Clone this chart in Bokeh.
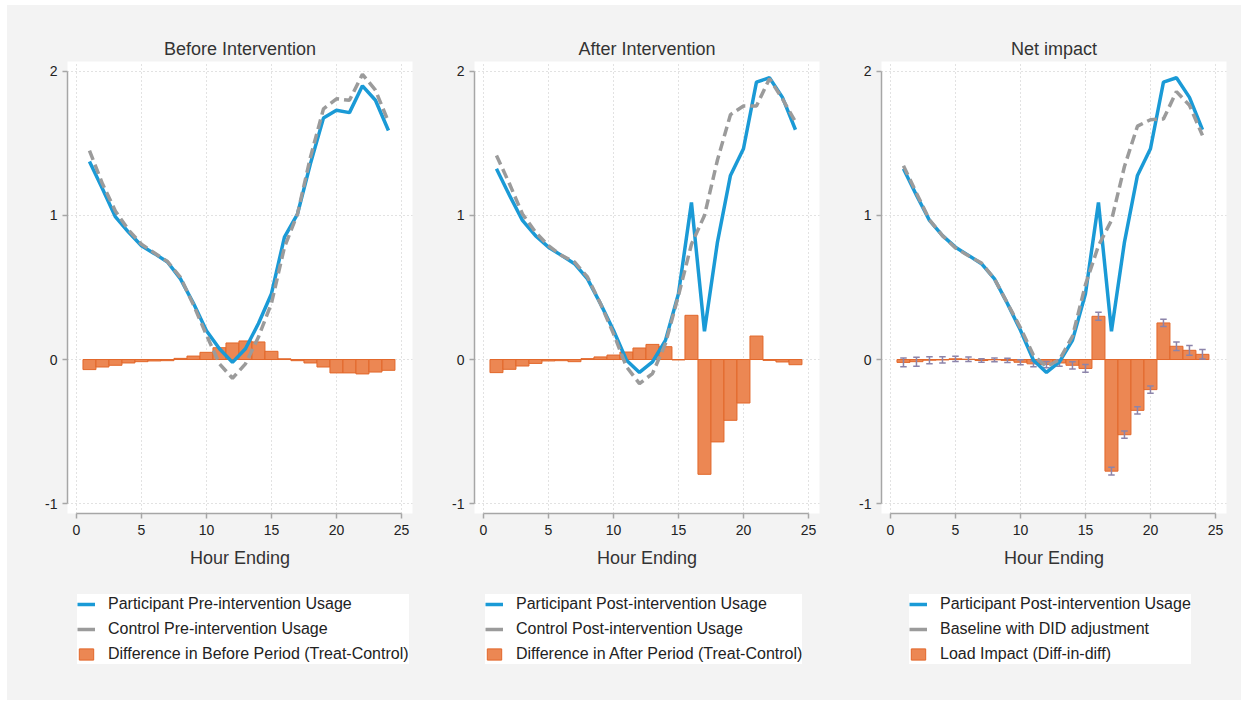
from bokeh.plotting import figure
from bokeh.models import Range1d, Legend, LegendItem, FixedTicker
from bokeh.layouts import row, column
from bokeh.embed import file_html
from bokeh.resources import INLINE

hours = list(range(1, 25))

participant_pre = [1.375, 1.186, 0.99, 0.885, 0.79, 0.735, 0.677, 0.56, 0.39, 0.20, 0.075, -0.02,
                   0.075, 0.25, 0.457, 0.85, 1.01, 1.36, 1.676, 1.73, 1.714, 1.90, 1.80, 1.59]
control_pre = [1.45, 1.22, 1.03, 0.90, 0.80, 0.74, 0.68, 0.57, 0.38, 0.17, -0.03, -0.13,
               -0.03, 0.156, 0.39, 0.78, 1.01, 1.405, 1.74, 1.81, 1.80, 1.98, 1.87, 1.65]
diff_before = [-0.07, -0.052, -0.04, -0.024, -0.015, -0.01, -0.008, 0.008, 0.024, 0.05, 0.082, 0.115,
               0.129, 0.122, 0.057, 0.005, -0.008, -0.024, -0.052, -0.093, -0.093, -0.10, -0.087, -0.075]

participant_post = [1.324, 1.14, 0.966, 0.86, 0.78, 0.723, 0.665, 0.56, 0.388, 0.203, -0.005, -0.09,
                    -0.017, 0.133, 0.457, 1.09, 0.196, 0.815, 1.278, 1.463, 1.926, 1.956, 1.82, 1.595]
control_post = [1.417, 1.22, 1.01, 0.885, 0.79, 0.723, 0.677, 0.573, 0.388, 0.18, -0.05, -0.167,
                -0.098, 0.11, 0.445, 0.80, 1.0, 1.385, 1.70, 1.76, 1.76, 1.95, 1.81, 1.65]
diff_after = [-0.091, -0.068, -0.045, -0.027, -0.01, -0.008, -0.015, 0.006, 0.018, 0.031, 0.052, 0.08,
              0.105, 0.089, -0.003, 0.307, -0.797, -0.572, -0.422, -0.302, 0.163, -0.006, -0.017, -0.036]

baseline_did = [1.345, 1.155, 0.97, 0.86, 0.775, 0.72, 0.67, 0.56, 0.39, 0.22, 0.03, -0.05,
                0.0, 0.16, 0.52, 0.79, 0.966, 1.34, 1.62, 1.665, 1.67, 1.86, 1.765, 1.556]
load_impact = [-0.02, -0.015, -0.005, -0.003, 0.005, 0.002, -0.007, -0.002, -0.006, -0.019, -0.03, -0.035,
               -0.024, -0.04, -0.062, 0.30, -0.775, -0.522, -0.353, -0.209, 0.254, 0.092, 0.064, 0.036]
impact_ci = [0.031, 0.031, 0.025, 0.022, 0.018, 0.015, 0.012, 0.013, 0.015, 0.018, 0.02, 0.022,
             0.022, 0.025, 0.027, 0.028, 0.027, 0.025, 0.025, 0.025, 0.025, 0.029, 0.034, 0.033]

x_ticks = [0, 5, 10, 15, 20, 25]
y_ticks = [-1, 0, 1, 2]
y_tick_labels = {-1: "-1", 0: "0", 1: "1", 2: "2"}

BG = "#f3f3f3"
BLUE = "#1a9ad6"
GRAY = "#9b9b9b"
ORANGE = "#ec8753"
ORANGE_LINE = "#e2672a"
ERR = "#8c84aa"
FONT = "Liberation Sans"


def make_panel(title, blue_y, gray_y, bars, right_border, ci=None):
    p = figure(frame_width=345, frame_height=452,
               x_range=Range1d(-0.69, 25.85), y_range=Range1d(-1.069, 2.069),
               output_backend="svg", toolbar_location=None,
               min_border_left=60, min_border_right=right_border,
               min_border_top=56, min_border_bottom=67,
               background_fill_color="white", border_fill_color=BG,
               outline_line_color=None, title=title)
    p.title.align = "center"
    p.title.text_font = FONT
    p.title.text_font_size = "18px"
    p.title.text_font_style = "normal"
    p.title.text_color = "#333333"
    p.title.standoff = 6

    for ax in (p.xaxis[0], p.yaxis[0]):
        ax.axis_line_color = "#a6a6a6"
        ax.axis_line_width = 1.5
        ax.major_tick_line_color = "#a6a6a6"
        ax.major_tick_line_width = 1.5
        ax.major_tick_out = 5
        ax.major_tick_in = 0
        ax.minor_tick_line_color = None
        ax.major_label_text_font = FONT
        ax.major_label_text_font_size = "14px"
        ax.major_label_text_color = "#222222"
    p.xaxis[0].ticker = FixedTicker(ticks=x_ticks)
    p.yaxis[0].ticker = FixedTicker(ticks=y_ticks)
    p.yaxis[0].major_label_overrides = y_tick_labels
    p.xaxis[0].bounds = (x_ticks[0], x_ticks[-1])
    p.yaxis[0].bounds = (y_ticks[0], y_ticks[-1])
    p.xaxis[0].axis_label = "Hour Ending"
    p.xaxis[0].axis_label_text_font = FONT
    p.xaxis[0].axis_label_text_font_size = "18px"
    p.xaxis[0].axis_label_text_font_style = "normal"
    p.xaxis[0].axis_label_text_color = "#333333"
    p.xaxis[0].axis_label_standoff = 10
    p.xaxis[0].major_label_standoff = 6

    p.xgrid[0].ticker = FixedTicker(ticks=x_ticks)
    p.ygrid[0].ticker = FixedTicker(ticks=y_ticks)
    for g in (p.xgrid[0], p.ygrid[0]):
        g.grid_line_color = "#c4c4c4"
        g.grid_line_dash = "1 3"
        g.grid_line_width = 1

    p.vbar(x=hours, top=bars, bottom=0, width=1.0,
           fill_color=ORANGE, line_color=ORANGE_LINE, line_width=1)
    if ci is not None:
        lo = [b - c for b, c in zip(bars, ci)]
        hi = [b + c for b, c in zip(bars, ci)]
        xl = [h - 0.25 for h in hours]
        xr = [h + 0.25 for h in hours]
        p.segment(x0=hours, y0=lo, x1=hours, y1=hi, line_color=ERR, line_width=1.5)
        p.segment(x0=xl, y0=lo, x1=xr, y1=lo, line_color=ERR, line_width=1.5)
        p.segment(x0=xl, y0=hi, x1=xr, y1=hi, line_color=ERR, line_width=1.5)
    p.line(hours, blue_y, line_color=BLUE, line_width=3.5)
    p.line(hours, gray_y, line_color=GRAY, line_width=3.5, line_dash="10 5")
    return p


def make_legend(labels, width, legend_x):
    # a legend-only strip below each panel; its swatch renderers sit outside the visible range
    q = figure(width=width, height=120, x_range=Range1d(0, 1), y_range=Range1d(0, 1),
               output_backend="svg", toolbar_location=None,
               x_axis_location=None, y_axis_location=None, min_border=0,
               background_fill_color=BG, border_fill_color=BG, outline_line_color=None)
    q.xgrid.visible = False
    q.ygrid.visible = False
    r_blue = q.line([5, 6], [5, 5], line_color=BLUE, line_width=3.5)
    r_gray = q.line([5, 6], [5, 5], line_color=GRAY, line_width=3.5)
    r_bar = q.vbar(x=[5], top=[6], bottom=[5], width=1.0,
                   fill_color=ORANGE, line_color=ORANGE_LINE, line_width=1)
    legend = Legend(items=[LegendItem(label=labels[0], renderers=[r_blue]),
                           LegendItem(label=labels[1], renderers=[r_gray]),
                           LegendItem(label=labels[2], renderers=[r_bar])],
                    location=(legend_x, 36), orientation="vertical")
    legend.background_fill_color = "white"
    legend.background_fill_alpha = 1.0
    legend.border_line_color = None
    legend.label_text_font = FONT
    legend.label_text_font_size = "16px"
    legend.label_text_color = "#222222"
    legend.glyph_width = 18
    legend.glyph_height = 14
    legend.label_height = 20
    legend.label_standoff = 13
    legend.spacing = 5
    legend.padding = 10
    legend.margin = 0
    q.add_layout(legend, "center")
    return q


p1 = make_panel("Before Intervention", participant_pre, control_pre, diff_before, 2)
p2 = make_panel("After Intervention", participant_post, control_post, diff_after, 2)
p3 = make_panel("Net impact", participant_post, baseline_did, load_impact, 15, ci=impact_ci)

l1 = make_legend(["Participant Pre-intervention Usage", "Control Pre-intervention Usage",
                  "Difference in Before Period (Treat-Control)"], 407, 70)
l2 = make_legend(["Participant Post-intervention Usage", "Control Post-intervention Usage",
                  "Difference in After Period (Treat-Control)"], 407, 71)
l3 = make_legend(["Participant Post-intervention Usage", "Baseline with DID adjustment",
                  "Load Impact (Diff-in-diff)"], 420, 88)

top = row(p1, p2, p3, spacing=0, styles={"background-color": BG})
bottom = row(l1, l2, l3, spacing=0, styles={"background-color": BG})
layout = column(top, bottom, spacing=0, margin=(5, 0, 0, 7), styles={"background-color": BG})

open("out.html", "w").write(file_html(layout, INLINE))
